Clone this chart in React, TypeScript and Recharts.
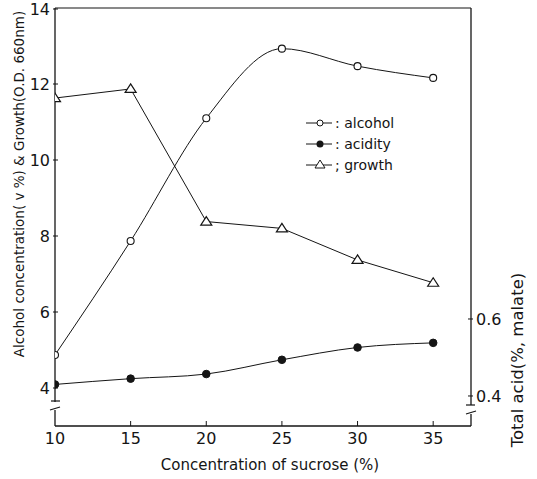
import React from "react";
import { LineChart, Line, XAxis, YAxis, ReferenceLine } from "recharts";

const sucrose = [10, 15, 20, 25, 30, 35];
const alcohol = [4.87, 7.87, 11.1, 12.93, 12.47, 12.16];
const growth = [11.63, 11.87, 8.38, 8.2, 7.37, 6.77];
const acidity = [0.43, 0.445, 0.457, 0.494, 0.526, 0.538];

const xTicks = [10, 15, 20, 25, 30, 35];
const leftTicks = [4, 6, 8, 10, 12, 14];
const rightTicks = [0.4, 0.6];

const data = sucrose.map((s, i) => ({
  sucrose: s,
  alcohol: alcohol[i],
  growth: growth[i],
  acidity: acidity[i],
}));

const FONT = "'DejaVu Sans', sans-serif";
const INK = "#151515";

const OpenCircle = (p: any) =>
  p.cx == null ? null : (
    <circle cx={p.cx} cy={p.cy} r={3.5} fill="#fff" stroke={INK} strokeWidth={1.1} />
  );
const FilledCircle = (p: any) =>
  p.cx == null ? null : <circle cx={p.cx} cy={p.cy} r={3.8} fill={INK} stroke={INK} />;
const Triangle = (p: any) =>
  p.cx == null ? null : (
    <path
      d={`M${p.cx},${p.cy - 5} L${p.cx + 5.5},${p.cy + 3.5} L${p.cx - 5.5},${p.cy + 3.5} Z`}
      fill="#fff"
      stroke={INK}
      strokeWidth={1.2}
    />
  );

const XTick = (p: any) => {
  const { x, y, payload } = p;
  return (
    <g>
      {payload.value !== 10 && <line x1={x} y1={y} x2={x} y2={y - 5} stroke={INK} />}
      <text x={x} y={y + 18} textAnchor="middle" fontSize={16} fontFamily={FONT} fill={INK}>
        {payload.value}
      </text>
    </g>
  );
};

const LeftTick = (p: any) => {
  const { x, y, payload } = p;
  return (
    <g>
      <line x1={x - 2} y1={y} x2={x + 3} y2={y} stroke={INK} />
      <text x={x - 5} y={y + 6} textAnchor="end" fontSize={16} fontFamily={FONT} fill={INK}>
        {payload.value}
      </text>
    </g>
  );
};

const RightTick = (p: any) => {
  const { x, y, payload } = p;
  return (
    <g>
      <line x1={x - 3} y1={y} x2={x + 2} y2={y} stroke={INK} />
      <text x={x + 5} y={y + 6} textAnchor="start" fontSize={16} fontFamily={FONT} fill={INK}>
        {payload.value.toFixed(1)}
      </text>
    </g>
  );
};

const legendItems = [
  { name: "alcohol", sep: ":", marker: "open" },
  { name: "acidity", sep: ":", marker: "filled" },
  { name: "growth", sep: ";", marker: "tri" },
];

const LegendBox = () => (
  <g transform="translate(302,113)">
    {legendItems.map((it, i) => {
      const cy = 10 + i * 21;
      const cx = 18;
      return (
        <g key={it.name}>
          <line x1={4} y1={cy} x2={30} y2={cy} stroke={INK} strokeWidth={1} />
          {it.marker === "open" && <circle cx={cx} cy={cy} r={3} fill="#fff" stroke={INK} />}
          {it.marker === "filled" && <circle cx={cx} cy={cy} r={3.5} fill={INK} />}
          {it.marker === "tri" && (
            <path
              d={`M${cx},${cy - 5} L${cx + 5},${cy + 3} L${cx - 5},${cy + 3} Z`}
              fill="#fff"
              stroke={INK}
            />
          )}
          <text x={33} y={cy + 5} fontSize={14} fontFamily={FONT} fill={INK}>
            {it.sep} {it.name}
          </text>
        </g>
      );
    })}
  </g>
);

export default function App() {
  return (
    <div style={{ position: "absolute", left: 0, top: 0, width: 537, height: 479, background: "#fff" }}>
      <LineChart
        width={537}
        height={479}
        data={data}
        margin={{ top: 8, right: 0, bottom: 0, left: 0 }}
      >
        <XAxis
          dataKey="sucrose"
          type="number"
          domain={[10, 37.5]}
          ticks={xTicks}
          allowDataOverflow
          height={53}
          tickLine={false}
          tickSize={0}
          tickMargin={0}
          tick={<XTick />}
          axisLine={{ stroke: INK, strokeWidth: 1.3 }}
          label={() => (
            <text x={270} y={470} textAnchor="middle" fontSize={15} fontFamily={FONT} fill={INK}>
              Concentration of sucrose (%)
            </text>
          )}
        />
        <YAxis
          yAxisId="left"
          type="number"
          domain={[3, 14]}
          ticks={leftTicks}
          allowDataOverflow
          width={55}
          tickLine={false}
          tickSize={0}
          tickMargin={0}
          tick={<LeftTick />}
          axisLine={{ stroke: INK, strokeWidth: 1.3 }}
          label={() => (
            <text
              x={0}
              y={0}
              transform="translate(24,184) rotate(-90)"
              textAnchor="middle"
              fontSize={13.5}
              fontFamily={FONT}
              fill={INK}
            >
              Alcohol concentration( v %) &amp; Growth(O.D. 660nm)
            </text>
          )}
        />
        <YAxis
          yAxisId="right"
          orientation="right"
          type="number"
          domain={[0.322, 1.408]}
          ticks={rightTicks}
          allowDataOverflow
          width={66}
          tickLine={false}
          tickSize={0}
          tickMargin={0}
          tick={<RightTick />}
          axisLine={{ stroke: INK, strokeWidth: 1.3 }}
          label={() => (
            <text
              x={0}
              y={0}
              transform="translate(523,360) rotate(-90)"
              textAnchor="middle"
              fontSize={16.5}
              fontFamily={FONT}
              fill={INK}
            >
              Total acid(%, malate)
            </text>
          )}
        />
        <ReferenceLine yAxisId="left" y={14} stroke={INK} strokeWidth={1.2} />
        <Line
          yAxisId="left"
          type="monotone"
          dataKey="alcohol"
          stroke={INK}
          strokeWidth={1}
          dot={<OpenCircle />}
          isAnimationActive={false}
        />
        <Line
          yAxisId="left"
          type="linear"
          dataKey="growth"
          stroke={INK}
          strokeWidth={1}
          dot={<Triangle />}
          isAnimationActive={false}
        />
        <Line
          yAxisId="right"
          type="monotone"
          dataKey="acidity"
          stroke={INK}
          strokeWidth={1}
          dot={<FilledCircle />}
          isAnimationActive={false}
        />
      </LineChart>
      <svg
        width={537}
        height={479}
        style={{ position: "absolute", left: 0, top: 0, pointerEvents: "none" }}
      >
        <LegendBox />
        <rect x={50} y={402} width={10} height={8} fill="#fff" />
        <line x1={51} y1={401} x2={60} y2={401} stroke={INK} strokeWidth={1.2} />
        <line x1={50} y1={410} x2={60} y2={407} stroke={INK} strokeWidth={1.2} />
        <rect x={466} y={405} width={10} height={9} fill="#fff" />
        <line x1={466} y1={405} x2={475} y2={405} stroke={INK} strokeWidth={1.2} />
        <line x1={466} y1={414} x2={476} y2={411} stroke={INK} strokeWidth={1.2} />
      </svg>
    </div>
  );
}
